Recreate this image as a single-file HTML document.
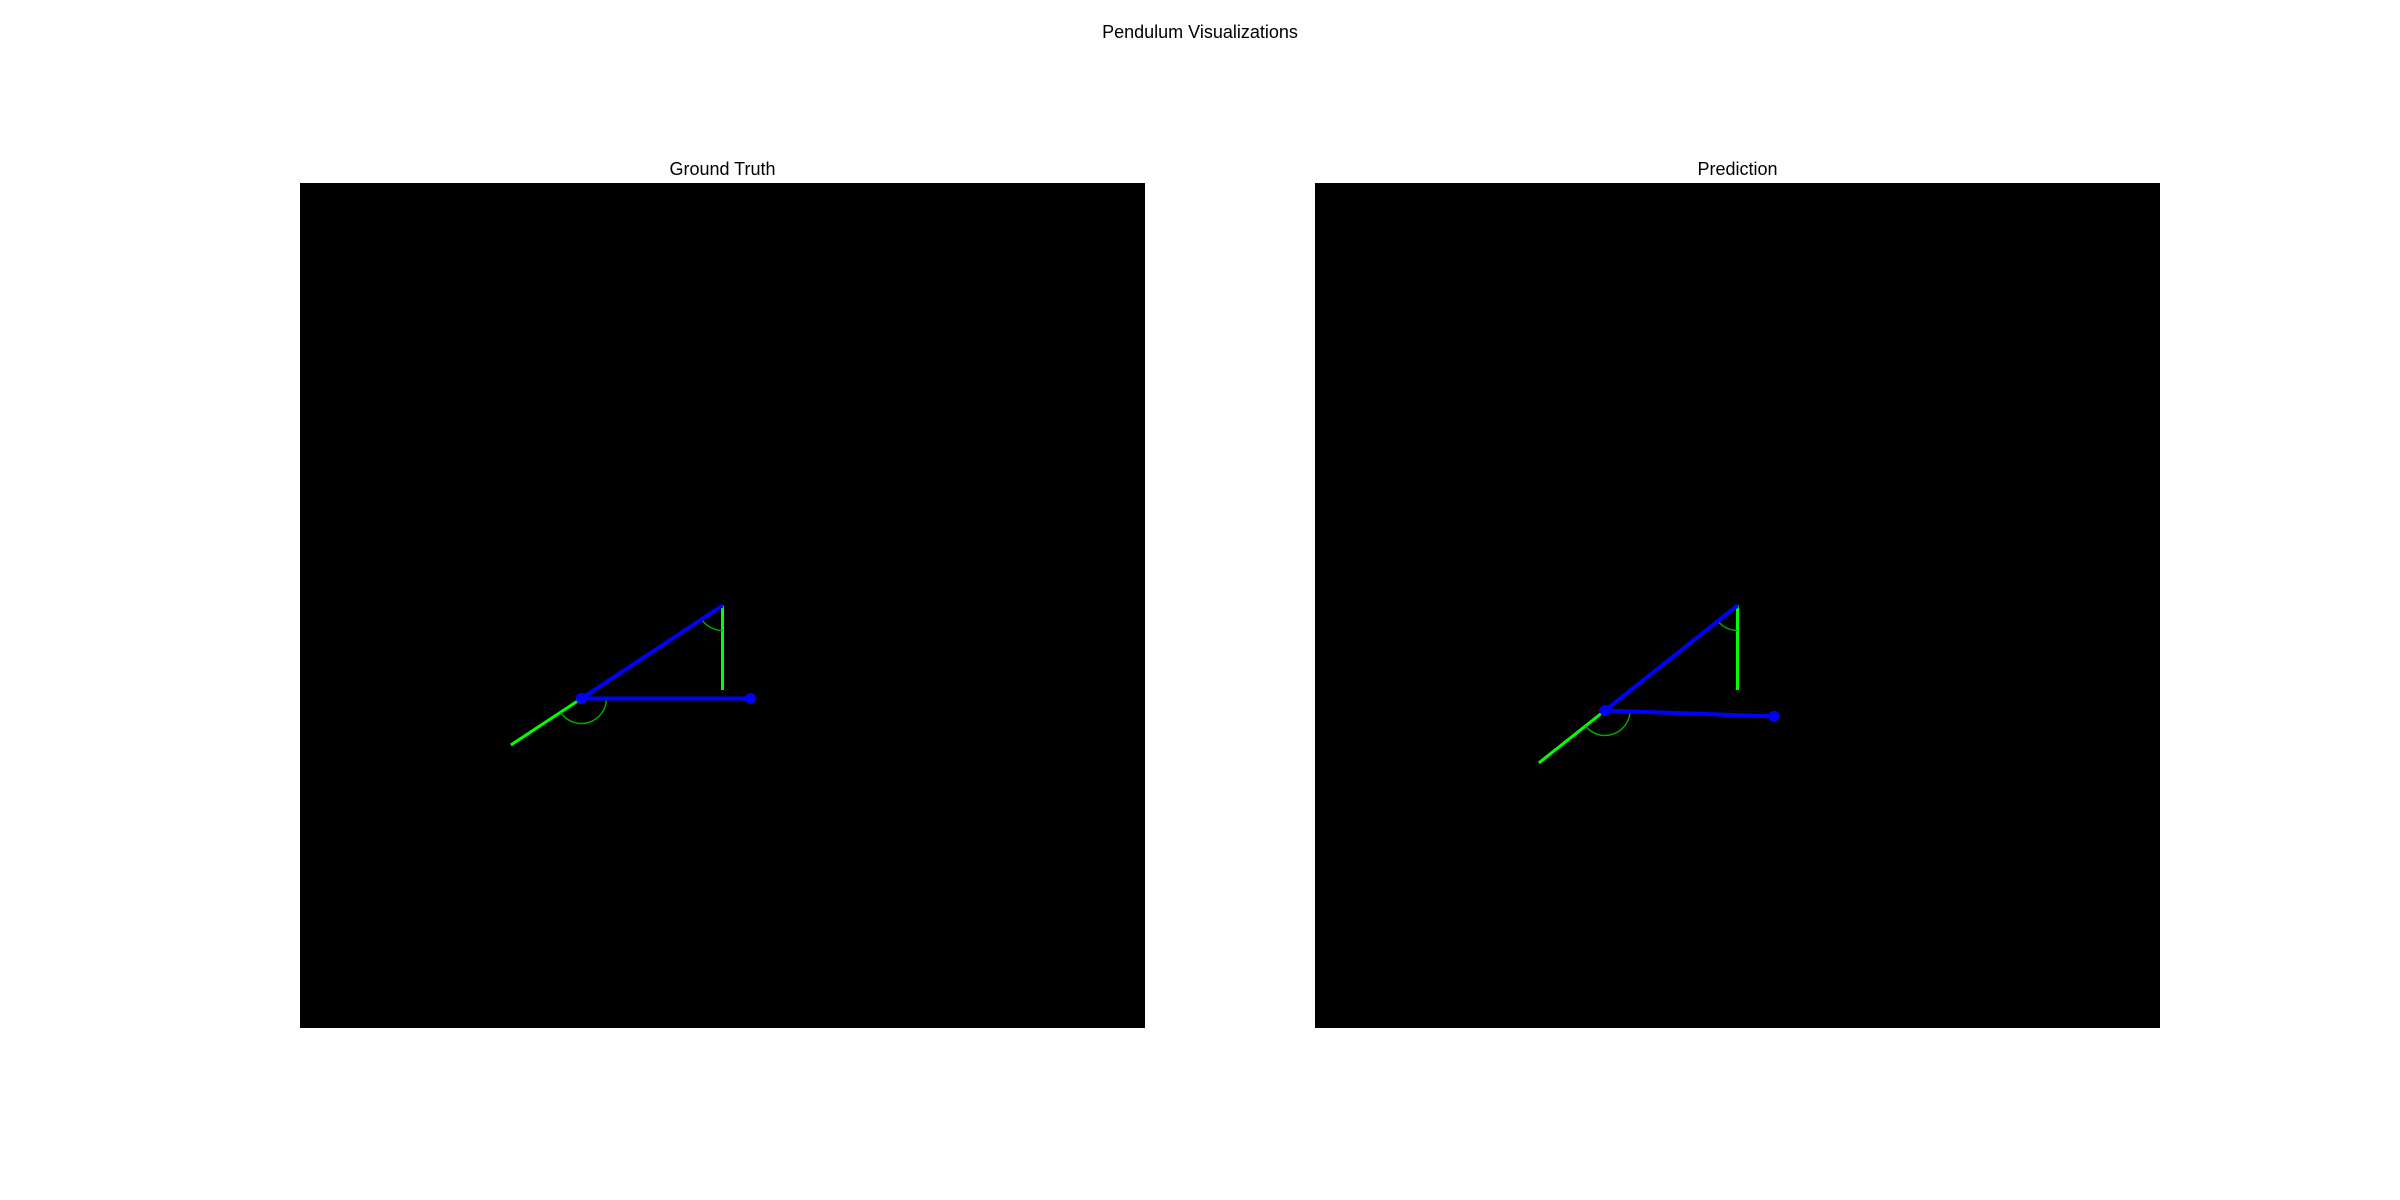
<!DOCTYPE html>
<html><head><meta charset="utf-8"><style>
html,body{margin:0;padding:0;background:#fff;}
svg{display:block;font-family:"Liberation Sans",sans-serif;}
</style></head><body>
<svg id="fig" width="2400" height="1200" viewBox="0 0 2400 1200">
<text x="1200" y="38" font-size="18" text-anchor="middle">Pendulum Visualizations</text>
<text x="722.5" y="175" font-size="18" text-anchor="middle">Ground Truth</text>
<text x="1737.5" y="175" font-size="18" text-anchor="middle">Prediction</text>
<rect x="300" y="183" width="845" height="845" fill="#000"/>
<rect x="1315" y="183" width="845" height="845" fill="#000"/>
</svg>
<script>
// angles in degrees measured from straight down (positive = to the right)
const panels = ["ground-truth", "prediction"];
const theta1 = [-56.6, -51.6];
const theta2 = [90.0, 88.0];
const rodLength = [1.0, 1.0];

const NS = "http://www.w3.org/2000/svg";
const svg = document.getElementById("fig");
const panelX = [300, 1315], panelY = 183, panelSize = 845;
const scale = 169; // px per unit length
function mk(tag, attrs) {
  const e = document.createElementNS(NS, tag);
  for (const k in attrs) e.setAttribute(k, attrs[k]);
  svg.appendChild(e);
  return e;
}
function dir(deg) { const r = deg * Math.PI / 180; return [Math.sin(r), Math.cos(r)]; }
function arc(cx, cy, r, a0, a1) {
  // angles from down
  const p0 = dir(a0), p1 = dir(a1);
  const sweep = a1 > a0 ? 0 : 1;
  const large = Math.abs(a1 - a0) > 180 ? 1 : 0;
  return `M${cx + r * p0[0]},${cy + r * p0[1]} A${r},${r} 0 ${large} ${sweep} ${cx + r * p1[0]},${cy + r * p1[1]}`;
}
panels.forEach((p, i) => {
  const cx = panelX[i] + panelSize / 2, cy = panelY + panelSize / 2;
  const L = rodLength[i] * scale;
  const d1 = dir(theta1[i]), d2 = dir(theta2[i]);
  const jx = cx + L * d1[0], jy = cy + L * d1[1];
  const ex = jx + L * d2[0], ey = jy + L * d2[1];
  let e;
  e = mk("line", {x1: cx, y1: cy, x2: cx, y2: cy + L / 2, stroke: "#00ff00", "stroke-width": 3});
  
  
  e = mk("line", {x1: jx, y1: jy, x2: jx + L / 2 * d1[0], y2: jy + L / 2 * d1[1], stroke: "#00ff00", "stroke-width": 3});
  
  
  e = mk("path", {d: arc(cx, cy, 25, 0, theta1[i]), fill: "none", stroke: "#00a800", "stroke-width": 1.5});
  
  
  e = mk("path", {d: arc(jx, jy, 25, theta1[i], theta2[i]), fill: "none", stroke: "#00a800", "stroke-width": 1.5});
  
  
  e = mk("line", {x1: cx, y1: cy, x2: jx, y2: jy, stroke: "#0000ff", "stroke-width": 4});
  
  
  e = mk("line", {x1: jx, y1: jy, x2: ex, y2: ey, stroke: "#0000ff", "stroke-width": 4});
  
  
  e = mk("circle", {cx: jx, cy: jy, r: 5.5, fill: "#0000ff"});
  
  
  e = mk("circle", {cx: ex, cy: ey, r: 5.5, fill: "#0000ff"});
  
  
});
</script>
</body></html>
